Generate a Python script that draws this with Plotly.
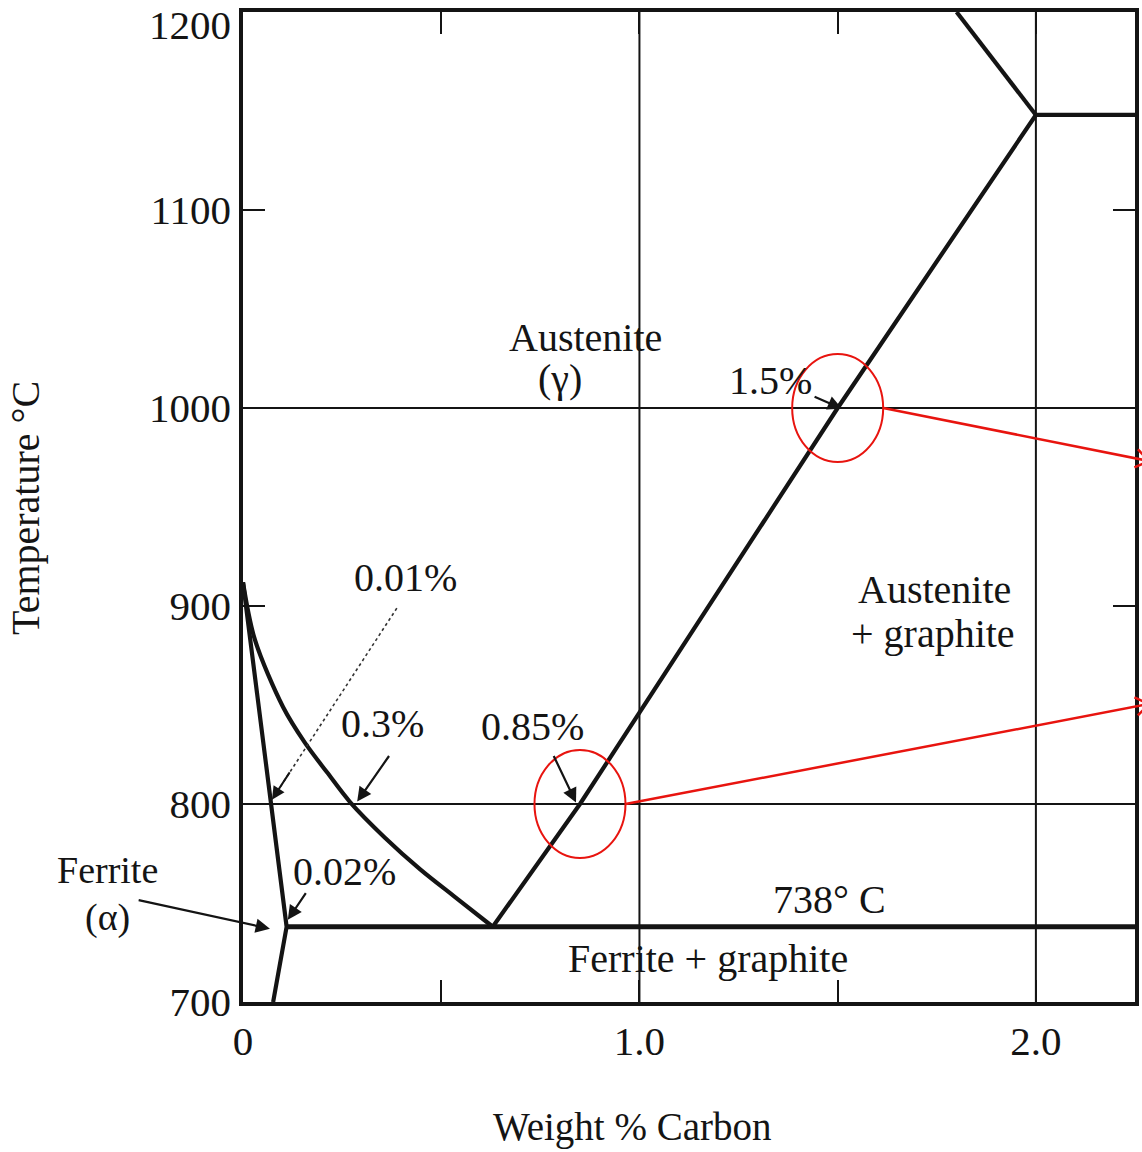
import math
import plotly.graph_objects as go

# ---------------- data (wt% C, deg C) ----------------
# gamma / (alpha+gamma) boundary (A3)
a3_x = [0.0, 0.030, 0.101, 0.156, 0.212, 0.270, 0.358, 0.447, 0.535, 0.63]
a3_y = [912, 883, 849, 831, 816, 801, 783, 767, 753, 738]
# alpha / (alpha+gamma) boundary and alpha solvus below eutectoid
alpha_x = [0.0, 0.07, 0.11, 0.076]
alpha_y = [912, 800, 738, 700]
# gamma / (gamma+graphite) boundary (Acm)
acm_x = [0.63, 0.85, 1.5, 2.0]
acm_y = [738, 800, 1000, 1148]
# liquidus segment at top right
liq_x = [1.8, 2.0]
liq_y = [1200, 1148]
# eutectic isotherm
eut_x = [2.0, 2.25]
eut_y = [1148, 1148]
# eutectoid isotherm (738 C)
eutd_x = [0.11, 2.25]
eutd_y = [738, 738]

# axes
x_range = [0, 2.25]
y_range = [700, 1200]
x_tickvals = [0, 0.5, 1.0, 1.5, 2.0]
x_ticktext = ["0", "", "1.0", "", "2.0"]
y_tickvals = [700, 800, 900, 1000, 1100, 1200]
y_ticktext = ["700", "800", "900", "1000", "1100", ""]
top_ticklabel = "1200"

grid_x = [1.0, 2.0]
grid_y = [800, 1000]

# region / value labels (inside the plot, data coords)
label_text = ["Austenite", "(γ)", "1.5%", "0.01%", "0.3%", "0.85%", "0.02%",
              "738° C", "Ferrite + graphite", "Austenite", "+ graphite"]
label_x = [0.863, 0.80, 1.33, 0.411, 0.351, 0.729, 0.257,
           1.48, 1.173, 1.745, 1.74]
label_y = [1035.5, 1014.8, 1013.8, 914.6, 840.7, 839.0, 765.8,
           751.6, 721.8, 908.5, 886.2]
# labels left of the axis (pixel anchor positions)
side_text = ["Ferrite", "(α)"]
side_px = [(107, 870), (107, 917)]

# pointer arrows: tail -> head
arrow_tail_x = [0.371, 0.782, 1.438, 0.161, -0.267]
arrow_tail_y = [825, 825, 1006, 755.7, 751.6]
arrow_head_x = [0.288, 0.84, 1.511, 0.113, 0.068]
arrow_head_y = [801.2, 800.7, 999.6, 741.5, 737]
# thin dashed pointer for 0.01%
dash_tail = (0.388, 898.9)
dash_head = (0.073, 802.2)

# highlighted points (red circles)
mark_x = [1.5, 0.85]
mark_y = [1000, 800]

# ---------------- layout geometry ----------------
W, H = 1142, 1152
ML, MR, MT, MB = 243, 7, 12, 150
PW = W - ML - MR
PH = H - MT - MB

def d2px(x, y):
    px = ML + (x - x_range[0]) / (x_range[1] - x_range[0]) * PW
    py = MT + (y_range[1] - y) / (y_range[1] - y_range[0]) * PH
    return px, py

def px2paper(px, py):
    return (px - ML) / PW, (H - MB - py) / PH

INK = "#141414"
FONT = "Liberation Serif"
FS = 40
TFS = 41

fig = go.Figure()

def add_line(x, y, w=4.2, shape="linear"):
    fig.add_trace(go.Scatter(x=x, y=y, mode="lines",
                             line=dict(color=INK, width=w, shape=shape, smoothing=0.9),
                             hoverinfo="skip", showlegend=False))

add_line(a3_x, a3_y, shape="spline")
add_line(alpha_x, alpha_y)
add_line(acm_x, acm_y)
add_line(liq_x, liq_y)
add_line(eut_x, eut_y)
add_line(eutd_x, eutd_y, w=5)

shapes = []
for gx in grid_x:
    shapes.append(dict(type="line", xref="x", yref="y", x0=gx, x1=gx,
                       y0=y_range[0], y1=y_range[1],
                       line=dict(color=INK, width=2), layer="below"))
for gy in grid_y:
    shapes.append(dict(type="line", xref="x", yref="y", x0=x_range[0], x1=x_range[1],
                       y0=gy, y1=gy, line=dict(color=INK, width=2), layer="below"))

# dashed pointer line
shapes.append(dict(type="line", xref="x", yref="y",
                   x0=dash_tail[0], y0=dash_tail[1], x1=dash_head[0], y1=dash_head[1],
                   line=dict(color="#333", width=1.6, dash="dot")))

# red circles and connector arrows
RED = "#e8140f"
RX_PX, RY_PX = 45.5, 54
rx = RX_PX / PW * (x_range[1] - x_range[0])
ry = RY_PX / PH * (y_range[1] - y_range[0])
tips_px = [(1149, 461), (1149, 704)]
for mx, my, tip in zip(mark_x, mark_y, tips_px):
    shapes.append(dict(type="circle", xref="x", yref="y",
                       x0=mx - rx, x1=mx + rx, y0=my - ry, y1=my + ry,
                       line=dict(color=RED, width=2)))
    sx, sy = d2px(mx + rx, my)
    tx, ty = tip
    p0 = px2paper(sx, sy)
    p1 = px2paper(tx, ty)
    shapes.append(dict(type="line", xref="paper", yref="paper",
                       x0=p0[0], y0=p0[1], x1=p1[0], y1=p1[1],
                       line=dict(color=RED, width=2.5)))
    ang = math.atan2(ty - sy, tx - sx)
    for s in (1, -1):
        a = ang + math.pi + s * math.radians(35)
        ex, ey = tx + 16 * math.cos(a), ty + 16 * math.sin(a)
        q = px2paper(ex, ey)
        shapes.append(dict(type="line", xref="paper", yref="paper",
                           x0=q[0], y0=q[1], x1=p1[0], y1=p1[1],
                           line=dict(color=RED, width=2.5)))

annotations = []
for t, x, y in zip(label_text, label_x, label_y):
    annotations.append(dict(x=x, y=y, xref="x", yref="y", text=t, showarrow=False,
                            font=dict(family=FONT, size=FS, color=INK),
                            xanchor="center", yanchor="middle"))
for t, (sx_, sy_) in zip(side_text, side_px):
    px_, py_ = px2paper(sx_, sy_)
    annotations.append(dict(x=px_, y=py_, xref="paper", yref="paper", text=t,
                            showarrow=False, font=dict(family=FONT, size=FS - 2, color=INK),
                            xanchor="center", yanchor="middle"))
for tx_, ty_, hx, hy in zip(arrow_tail_x, arrow_tail_y, arrow_head_x, arrow_head_y):
    annotations.append(dict(x=hx, y=hy, ax=tx_, ay=ty_, xref="x", yref="y",
                            axref="x", ayref="y", text="", showarrow=True,
                            arrowhead=2, arrowsize=1.3, arrowwidth=2.2,
                            arrowcolor=INK, standoff=0, startstandoff=0))
dmx = dash_head[0] + 0.15 * (dash_tail[0] - dash_head[0])
dmy = dash_head[1] + 0.15 * (dash_tail[1] - dash_head[1])
annotations.append(dict(x=dash_head[0], y=dash_head[1], ax=dmx, ay=dmy, xref="x", yref="y",
                        axref="x", ayref="y", text="", showarrow=True,
                        arrowhead=2, arrowsize=1.3, arrowwidth=2,
                        arrowcolor=INK, standoff=0))
# top y tick label kept inside the page
tl = px2paper(233, 0)
annotations.append(dict(x=tl[0], y=tl[1], xref="paper", yref="paper",
                        text=top_ticklabel, showarrow=False,
                        xanchor="right", yanchor="top",
                        font=dict(family=FONT, size=TFS, color=INK)))
# axis titles
annotations.append(dict(x=px2paper(25, 0)[0], y=px2paper(0, 508)[1],
                        xref="paper", yref="paper",
                        text="Temperature °C", textangle=-90, showarrow=False,
                        xanchor="center", yanchor="middle",
                        font=dict(family=FONT, size=FS, color=INK)))
annotations.append(dict(x=px2paper(632, 0)[0], y=px2paper(0, 1127)[1],
                        xref="paper", yref="paper",
                        text="Weight % Carbon", showarrow=False,
                        xanchor="center", yanchor="middle",
                        font=dict(family=FONT, size=FS - 1, color=INK)))

axis_common = dict(showgrid=False, zeroline=False, showline=True, linecolor=INK,
                   linewidth=3.5, mirror="ticks", ticks="inside", ticklen=22,
                   tickwidth=2, tickcolor=INK, ticklabeloverflow="allow",
                   automargin=False,
                   tickfont=dict(family=FONT, size=TFS, color=INK))

fig.update_layout(
    width=W, height=H,
    margin=dict(l=ML, r=MR, t=MT, b=MB, pad=0, autoexpand=False),
    paper_bgcolor="white", plot_bgcolor="white",
    xaxis=dict(range=x_range, tickmode="array", tickvals=x_tickvals,
               ticktext=x_ticktext, ticklabelstandoff=0, **axis_common),
    yaxis=dict(range=y_range, tickmode="array", tickvals=y_tickvals,
               ticktext=y_ticktext, ticklabelstandoff=0, **axis_common),
    shapes=shapes, annotations=annotations, showlegend=False,
)

fig.write_html(
    "out.html",
    config={"displayModeBar": False},
    post_script="document.body.style.margin='0';document.documentElement.style.overflow='hidden';",
)
